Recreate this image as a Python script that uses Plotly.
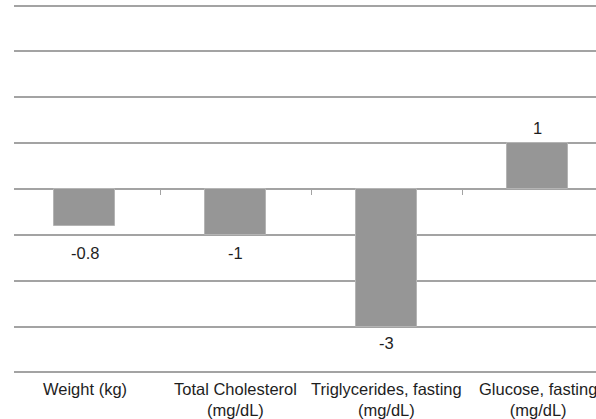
import plotly.graph_objects as go

categories = ["Weight (kg)", "Total Cholesterol<br>(mg/dL)",
              "Triglycerides, fasting<br>(mg/dL)", "Glucose, fasting<br>(mg/dL)"]
changes = [-0.8, -1, -3, 1]

positions = list(range(len(categories)))
bar_color = "#969696"
grid_color = "#a3a3a3"
text_color = "#1e1e1e"
font_family = "Liberation Sans, Arial, sans-serif"

# vertical pixel offsets of the value labels from the bar ends
label_shifts = [-27, -18, -16, 15]

fig = go.Figure()
fig.add_trace(go.Bar(
    x=positions, y=changes, width=0.4,
    marker=dict(color=bar_color, line=dict(color="#b4b4b4", width=1)),
    hoverinfo="skip",
))
# invisible trace so the boundary-tick axis at zero is drawn
fig.add_trace(go.Scatter(x=[0], y=[0], xaxis="x2", mode="markers",
                         marker=dict(opacity=0), hoverinfo="skip", showlegend=False))

def fmt(v):
    return "%g" % v

for xi, v, dy in zip(positions, changes, label_shifts):
    fig.add_annotation(
        x=xi, y=v, text=fmt(v), showarrow=False,
        yanchor="middle", yshift=dy,
        font=dict(size=16.5, color=text_color, family=font_family),
    )

# category labels under the plot (the last one runs past the page edge)
for xi, name in zip(positions, categories):
    fig.add_annotation(
        x=xi, xref="x", y=-4, yref="y", text=name, showarrow=False,
        xanchor="center", yanchor="top", yshift=-6,
        font=dict(size=16.5, color=text_color, family=font_family),
    )

x_range = [-0.467, 3.387]
fig.update_layout(
    width=596, height=419,
    margin=dict(l=14, r=0, t=1.4, b=42.4),
    paper_bgcolor="white", plot_bgcolor="white",
    showlegend=False,
    bargap=0,
    xaxis=dict(
        range=x_range, showticklabels=False,
        showgrid=False, zeroline=False, showline=False, ticks="",
    ),
    xaxis2=dict(
        range=x_range, overlaying="x", anchor="free", position=0.5, side="bottom",
        tickmode="array", tickvals=[0.5, 1.5, 2.5], ticks="outside", ticklen=5,
        tickwidth=1, tickcolor=grid_color, showticklabels=False,
        showgrid=False, zeroline=False, showline=False,
    ),
    yaxis=dict(
        range=[-4.1, 4.1], tickmode="array", tickvals=list(range(-4, 5)),
        showticklabels=False,
        showgrid=True, gridcolor=grid_color, gridwidth=1.5,
        zeroline=True, zerolinecolor=grid_color, zerolinewidth=1.5,
    ),
)

fig.write_html("out.html")
